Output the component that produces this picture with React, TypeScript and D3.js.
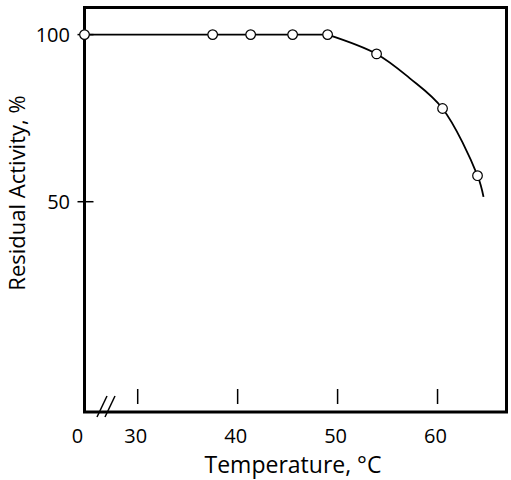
import * as d3 from 'd3';
import { useEffect, useRef } from 'react';

// Measured points (temperature in °C, residual activity in %)
const temps = [0, 37.5, 41.3, 45.5, 49, 53.9, 60.5, 64.0];
const activity = [100, 100, 100, 100, 100, 92.3, 73.6, 55.7];

// Plateau of the fitted line, then the falling part
const flatTemps = [0, 49];
const flatActivity = [100, 100];
const fallTemps = [49, 53.9, 57.2, 60.5, 64.0, 64.6];
const fallActivity = [100, 92.3, 83.5, 73.6, 55.7, 51];

const xTicks = [30, 40, 50, 60];
const yTicks = [100, 50];

function App() {
  const svgRef = useRef<SVGSVGElement>(null);

  useEffect(() => {
    if (!svgRef.current) {
      return;
    }
    const svg = d3.select(svgRef.current);
    svg.selectAll('*').remove();

    const left = 84.5;
    const right = 506.5;
    const top = 7.5;
    const bottom = 412;
    const font = "'Open Sans', 'Noto Sans', sans-serif";

    // Broken x axis: 0 sits at the left edge, the rest is linear from ~25 °C
    const xScale = d3
      .scaleLinear()
      .domain([0, 24.7, 30, 66.9])
      .range([left, left, 137.7, right]);

    // Log scale for residual activity
    const yScale = d3.scaleLog().domain([20.9, 111.9]).range([bottom, top]);

    const g = svg.append('g');

    // Frame
    g.append('rect')
      .attr('x', left)
      .attr('y', top)
      .attr('width', right - left)
      .attr('height', bottom - top)
      .attr('fill', 'none')
      .attr('stroke', '#000')
      .attr('stroke-width', 3);

    // X ticks (inside, floating above the axis)
    xTicks.forEach((t) => {
      g.append('line')
        .attr('x1', xScale(t))
        .attr('x2', xScale(t))
        .attr('y1', bottom - 23)
        .attr('y2', bottom - 8)
        .attr('stroke', '#000')
        .attr('stroke-width', 1.5);

      g.append('text')
        .attr('x', xScale(t) - 2)
        .attr('y', 443)
        .attr('text-anchor', 'middle')
        .style('font-family', font)
        .style('font-size', '20px')
        .text(t);
    });

    g.append('text')
      .attr('x', 77.5)
      .attr('y', 443)
      .attr('text-anchor', 'middle')
      .style('font-family', font)
      .style('font-size', '20px')
      .text('0');

    // Axis break marks
    [0, 8].forEach((dx) => {
      g.append('line')
        .attr('x1', 97 + dx)
        .attr('x2', 107 + dx)
        .attr('y1', bottom + 5)
        .attr('y2', bottom - 16)
        .attr('stroke', '#000')
        .attr('stroke-width', 1.5);
    });

    // Y ticks crossing the axis
    yTicks.forEach((t) => {
      g.append('line')
        .attr('x1', left - 7)
        .attr('x2', left + 9)
        .attr('y1', yScale(t))
        .attr('y2', yScale(t))
        .attr('stroke', '#000')
        .attr('stroke-width', 1.5);

      g.append('text')
        .attr('x', 70)
        .attr('y', yScale(t) + 7)
        .attr('text-anchor', 'end')
        .style('font-family', font)
        .style('font-size', '20px')
        .text(t);
    });

    // Axis titles
    g.append('text')
      .attr('x', 293)
      .attr('y', 473)
      .attr('text-anchor', 'middle')
      .style('font-family', font)
      .style('font-size', '23px')
      .text('Temperature, °C');

    g.append('text')
      .attr('transform', 'translate(25,193) rotate(-90)')
      .attr('text-anchor', 'middle')
      .style('font-family', font)
      .style('font-size', '22px')
      .text('Residual Activity, %');

    // Fitted line: flat plateau, then smooth decline
    const flatLine = d3
      .line<number>()
      .x((d) => xScale(flatTemps[d]))
      .y((d) => yScale(flatActivity[d]));

    const fallLine = d3
      .line<number>()
      .x((d) => xScale(fallTemps[d]))
      .y((d) => yScale(fallActivity[d]))
      .curve(d3.curveCatmullRom.alpha(0.5));

    g.append('path')
      .datum(d3.range(flatTemps.length))
      .attr('fill', 'none')
      .attr('stroke', '#000')
      .attr('stroke-width', 1.8)
      .attr('d', flatLine);

    g.append('path')
      .datum(d3.range(fallTemps.length))
      .attr('fill', 'none')
      .attr('stroke', '#000')
      .attr('stroke-width', 1.8)
      .attr('d', fallLine);

    // Points
    g.selectAll('circle.pt')
      .data(d3.range(temps.length))
      .enter()
      .append('circle')
      .attr('class', 'pt')
      .attr('cx', (i) => xScale(temps[i]))
      .attr('cy', (i) => yScale(activity[i]))
      .attr('r', 4.8)
      .attr('fill', '#fff')
      .attr('stroke', '#000')
      .attr('stroke-width', 1.2);
  }, []);

  return (
    <div style={{ position: 'absolute', left: 0, top: 0, width: 511, height: 480 }}>
      <svg ref={svgRef} width={511} height={480} />
    </div>
  );
}

export default App;
